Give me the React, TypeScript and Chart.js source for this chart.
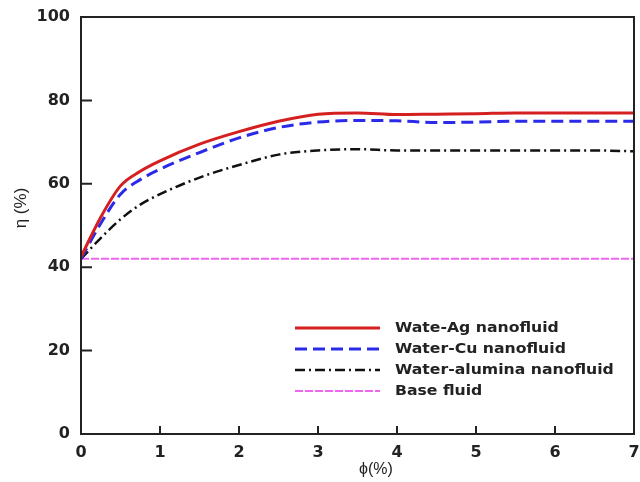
import React, { useEffect, useRef } from "react";
import { Chart, registerables } from "chart.js";

Chart.register(...registerables);

const phi = [0, 0.25, 0.5, 0.75, 1, 1.5, 2, 2.5, 3, 3.5, 4, 4.5, 5, 5.5, 6, 6.5, 7];
const agValues = [42.5, 52, 59.5, 63, 65.5, 69.5, 72.5, 75, 76.7, 77, 76.6, 76.7, 76.8, 77, 77, 77, 77];
const cuValues = [42, 50.5, 57.5, 61, 63.5, 67.5, 71, 73.5, 74.8, 75.2, 75.1, 74.7, 74.8, 75, 75, 75, 75];
const aluminaValues = [42, 47, 51.5, 55, 57.5, 61.5, 64.5, 67, 68, 68.3, 68, 68, 68, 68, 68, 68, 67.8];
const baseValues = [42, 42, 42, 42, 42, 42, 42, 42, 42, 42, 42, 42, 42, 42, 42, 42, 42];
const seriesLabels = ["Wate-Ag nanofluid", "Water-Cu nanofluid", "Water-alumina nanofluid", "Base fluid"];
const xTicks = [0, 1, 2, 3, 4, 5, 6, 7];
const yTicks = [0, 20, 40, 60, 80, 100];
const xTitle = "ϕ(%)";
const yTitle = "η (%)";

const toPts = (vals: number[]) => vals.map((v, i) => ({ x: phi[i], y: v }));

const framePlugin = {
  id: "frame",
  afterDatasetsDraw(chart: any) {
    const { ctx, chartArea: a, scales } = chart;
    ctx.save();
    ctx.strokeStyle = "#222";
    ctx.lineWidth = 2;
    ctx.strokeRect(a.left, a.top, a.right - a.left, a.bottom - a.top);
    ctx.beginPath();
    for (const v of yTicks) {
      const y = scales.y.getPixelForValue(v);
      ctx.moveTo(a.left, y);
      ctx.lineTo(a.left + 11, y);
    }
    for (const v of xTicks) {
      const x = scales.x.getPixelForValue(v);
      ctx.moveTo(x, a.bottom);
      ctx.lineTo(x, a.bottom - 8);
    }
    ctx.stroke();
    ctx.restore();
  },
  afterDraw(chart: any) {
    const { ctx } = chart;
    ctx.save();
    ctx.fillStyle = "#222";
    ctx.textAlign = "center";
    ctx.textBaseline = "middle";
    ctx.font = "16px 'Liberation Sans', Arial, sans-serif";
    ctx.fillText(xTitle, 376, 470);
    ctx.font = "17px 'Liberation Sans', Arial, sans-serif";
    ctx.translate(21, 208);
    ctx.rotate(-Math.PI / 2);
    ctx.fillText(yTitle, 0, 0);
    ctx.restore();

    const rows = [328, 349, 370, 391];
    chart.data.datasets.forEach((ds: any, i: number) => {
      const y = rows[i];
      ctx.save();
      ctx.strokeStyle = ds.borderColor;
      ctx.lineWidth = ds.borderWidth;
      ctx.setLineDash(ds.borderDash || []);
      ctx.beginPath();
      ctx.moveTo(295, y);
      ctx.lineTo(380, y);
      ctx.stroke();
      ctx.setLineDash([]);
      ctx.fillStyle = "#222";
      ctx.font = "bold 14px 'DejaVu Sans', sans-serif";
      ctx.textAlign = "left";
      ctx.textBaseline = "middle";
      ctx.translate(395, y);
      ctx.scale(1.12, 1);
      ctx.fillText(seriesLabels[i], 0, 0);
      ctx.restore();
    });
  },
};

export default function App() {
  const ref = useRef<HTMLCanvasElement | null>(null);
  useEffect(() => {
    if (!ref.current) return;
    const chart = new Chart(ref.current, {
      type: "line",
      data: {
        datasets: [
          { label: seriesLabels[0], data: toPts(agValues), borderColor: "#d42020", borderWidth: 3, pointRadius: 0, cubicInterpolationMode: "monotone" },
          { label: seriesLabels[1], data: toPts(cuValues), borderColor: "#2a2ae8", borderWidth: 3, borderDash: [12, 6], pointRadius: 0, cubicInterpolationMode: "monotone" },
          { label: seriesLabels[2], data: toPts(aluminaValues), borderColor: "#111111", borderWidth: 2.5, borderDash: [10, 4, 2, 4], pointRadius: 0, cubicInterpolationMode: "monotone" },
          { label: seriesLabels[3], data: toPts(baseValues), borderColor: "#ee66ee", borderWidth: 2, borderDash: [8, 2], pointRadius: 0 },
        ] as any,
      },
      options: {
        animation: false,
        responsive: false,
        maintainAspectRatio: false,
        layout: { padding: { top: 17, right: 6, left: 0, bottom: 0 } },
        plugins: { legend: { display: false }, tooltip: { enabled: false } },
        scales: {
          x: {
            type: "linear",
            min: 0,
            max: 7,
            grid: { display: false, drawTicks: false },
            border: { display: false },
            ticks: { stepSize: 1, padding: 9, color: "#222", font: { family: "'DejaVu Sans', sans-serif", weight: "bold", size: 16 } },
            afterFit: (s: any) => { s.height = 48; s.paddingLeft = 0; s.paddingRight = 0; },
          },
          y: {
            type: "linear",
            min: 0,
            max: 100,
            grid: { display: false, drawTicks: false },
            border: { display: false },
            ticks: { stepSize: 20, padding: 11, color: "#222", font: { family: "'DejaVu Sans', sans-serif", weight: "bold", size: 16 } },
            afterFit: (s: any) => { s.width = 81; s.paddingTop = 0; s.paddingBottom = 0; },
          },
        },
      } as any,
      plugins: [framePlugin],
    });
    return () => chart.destroy();
  }, []);
  return (
    <div style={{ position: "fixed", left: 0, top: 0, width: 640, height: 482, background: "#fff" }}>
      <canvas ref={ref} width={640} height={482} style={{ width: 640, height: 482 }} />
    </div>
  );
}
